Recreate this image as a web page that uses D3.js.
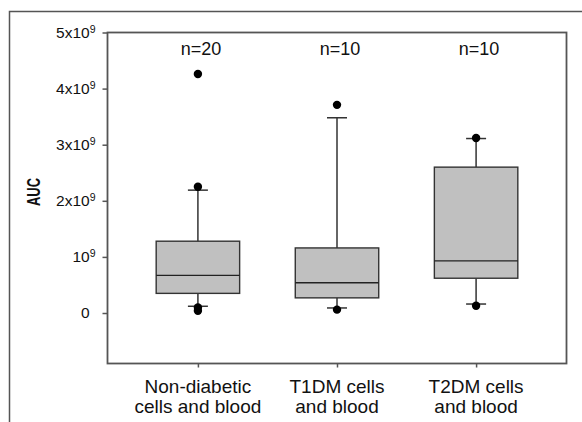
<!DOCTYPE html>
<html>
<head>
<meta charset="utf-8">
<script src="https://cdn.jsdelivr.net/npm/d3@7"></script>
<style>
  body { margin: 0; background: #fff; }
  text { font-family: Arial, "Liberation Sans", sans-serif; fill: #111; }
</style>
</head>
<body>
<script>
// data (AUC values)
var categories = ["Non-diabetic", "T1DM", "T2DM"];
var labelLines = [["Non-diabetic", "cells and blood"], ["T1DM cells", "and blood"], ["T2DM cells", "and blood"]];
var nLabels = ["n=20", "n=10", "n=10"];
var whiskerLow = [0.12e9, 0.09e9, 0.16e9];
var q1 = [0.35e9, 0.27e9, 0.62e9];
var median = [0.67e9, 0.54e9, 0.93e9];
var q3 = [1.28e9, 1.16e9, 2.60e9];
var whiskerHigh = [2.19e9, 3.48e9, 3.11e9];
var outliers = [[4.26e9, 2.25e9, 0.10e9, 0.04e9], [3.71e9, 0.06e9], [3.12e9, 0.13e9]];
var yTicks = [0, 1e9, 2e9, 3e9, 4e9, 5e9];

var W = 582, H = 422;
var plotL = 107.5, plotT = 32.5, plotR = 566.5, plotB = 363.5;

var svg = d3.select("body").append("svg")
  .attr("width", W)
  .attr("height", H);

// outer frame (runs off the right and bottom edges)
svg.append("rect")
  .attr("x", 9.5).attr("y", 11.5)
  .attr("width", 700).attr("height", 600)
  .attr("fill", "none")
  .attr("stroke", "#555")
  .attr("stroke-width", 1.5);

var x = d3.scalePoint()
  .domain(categories)
  .range([plotL, plotR])
  .padding(0.65);

var y = d3.scaleLinear()
  .domain([-0.9e9, 5e9])
  .range([plotB, plotT]);

var boxW = x.step() * 0.6;
var capW = 20;

// plot frame
svg.append("rect")
  .attr("x", plotL).attr("y", plotT)
  .attr("width", plotR - plotL).attr("height", plotB - plotT)
  .attr("fill", "none")
  .attr("stroke", "#555")
  .attr("stroke-width", 1.8);

// y axis
var yAxis = svg.append("g")
  .attr("transform", "translate(" + plotL + ",0)")
  .call(d3.axisLeft(y).tickValues(yTicks).tickSize(5).tickPadding(8).tickFormat(""));
yAxis.select(".domain").remove();
yAxis.selectAll(".tick line").attr("stroke", "#555").attr("stroke-width", 1.5);
yAxis.selectAll(".tick text").each(function (d) {
  var t = d3.select(this)
    .attr("font-size", 15.5)
    .attr("fill", "#111")
    .attr("x", -12);
  var k = Math.round(d / 1e9);
  if (k === 0) {
    t.attr("x", -18).text("0");
  } else {
    t.append("tspan").text(k === 1 ? "10" : k + "x10");
    t.append("tspan").attr("dy", "-0.5em").attr("font-size", 10.5).text("9");
  }
});

// x axis
var xAxis = svg.append("g")
  .attr("transform", "translate(0," + plotB + ")")
  .call(d3.axisBottom(x).tickSize(4).tickFormat(""));
xAxis.select(".domain").remove();
xAxis.selectAll(".tick line").attr("stroke", "#555").attr("stroke-width", 1.5);

// category labels, two lines each
var catLabels = svg.selectAll(".cat")
  .data(categories)
  .enter()
  .append("text")
  .attr("class", "cat")
  .attr("text-anchor", "middle")
  .attr("font-size", 19)
  .attr("x", function (d) { return x(d); })
  .attr("y", 392.5);
catLabels.each(function (d, i) {
  var t = d3.select(this);
  labelLines[i].forEach(function (line, j) {
    t.append("tspan")
      .attr("x", x(d))
      .attr("dy", j === 0 ? 0 : 20.5)
      .text(line);
  });
});

// y title
svg.append("text")
  .attr("transform", "translate(40," + 192 + ") rotate(-90)")
  .attr("text-anchor", "middle")
  .attr("font-size", 19)
  .attr("font-weight", "bold")
  .attr("textLength", 28)
  .attr("lengthAdjust", "spacingAndGlyphs")
  .text("AUC");

// boxes
var g = svg.selectAll(".box")
  .data(categories)
  .enter()
  .append("g")
  .attr("class", "box");

// whiskers
g.append("line")
  .attr("x1", function (d) { return x(d); })
  .attr("x2", function (d) { return x(d); })
  .attr("y1", function (d, i) { return y(q3[i]); })
  .attr("y2", function (d, i) { return y(whiskerHigh[i]); })
  .attr("stroke", "#333").attr("stroke-width", 1.5);
g.append("line")
  .attr("x1", function (d) { return x(d); })
  .attr("x2", function (d) { return x(d); })
  .attr("y1", function (d, i) { return y(q1[i]); })
  .attr("y2", function (d, i) { return y(whiskerLow[i]); })
  .attr("stroke", "#333").attr("stroke-width", 1.5);
// caps
g.append("line")
  .attr("x1", function (d) { return x(d) - capW / 2; })
  .attr("x2", function (d) { return x(d) + capW / 2; })
  .attr("y1", function (d, i) { return y(whiskerHigh[i]); })
  .attr("y2", function (d, i) { return y(whiskerHigh[i]); })
  .attr("stroke", "#333").attr("stroke-width", 1.5);
g.append("line")
  .attr("x1", function (d) { return x(d) - capW / 2; })
  .attr("x2", function (d) { return x(d) + capW / 2; })
  .attr("y1", function (d, i) { return y(whiskerLow[i]); })
  .attr("y2", function (d, i) { return y(whiskerLow[i]); })
  .attr("stroke", "#333").attr("stroke-width", 1.5);

// box body
g.append("rect")
  .attr("x", function (d) { return x(d) - boxW / 2; })
  .attr("y", function (d, i) { return y(q3[i]); })
  .attr("width", boxW)
  .attr("height", function (d, i) { return y(q1[i]) - y(q3[i]); })
  .attr("fill", "#c0c0c0")
  .attr("stroke", "#333")
  .attr("stroke-width", 1.4);

// median
g.append("line")
  .attr("x1", function (d) { return x(d) - boxW / 2; })
  .attr("x2", function (d) { return x(d) + boxW / 2; })
  .attr("y1", function (d, i) { return y(median[i]); })
  .attr("y2", function (d, i) { return y(median[i]); })
  .attr("stroke", "#222").attr("stroke-width", 1.4);

// outliers
g.selectAll("circle")
  .data(function (d, i) { return outliers[i].map(function (v) { return { c: d, v: v }; }); })
  .enter()
  .append("circle")
  .attr("cx", function (o) { return x(o.c); })
  .attr("cy", function (o) { return y(o.v); })
  .attr("r", 4.2)
  .attr("fill", "#000");

// n labels
svg.selectAll(".nlab")
  .data(categories)
  .enter()
  .append("text")
  .attr("class", "nlab")
  .attr("text-anchor", "middle")
  .attr("font-size", 18)
  .attr("x", function (d) { return x(d) + 3; })
  .attr("y", 55)
  .text(function (d, i) { return nLabels[i]; });
</script>
</body>
</html>
